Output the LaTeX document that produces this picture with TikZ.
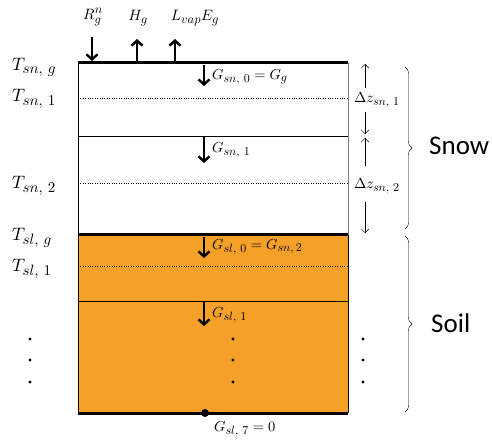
\documentclass[tikz,border=0pt]{standalone}
\usepackage{fontspec}
\newfontfamily\labelfont{Carlito}
\usetikzlibrary{arrows.meta, positioning, decorations.pathreplacing}

% scalable math fonts
\DeclareFontShape{OML}{cmm}{m}{it}{<->cmmi10}{}
\DeclareFontShape{OT1}{cmr}{m}{n}{<->cmr10}{}
\DeclareFontShape{OMS}{cmsy}{m}{n}{<->cmsy10}{}

% sub- and superscripts set at a size of their own
\newcommand{\subsz}[2]{_{\mbox{\fontsize{#1}{#1}\selectfont$#2$}}}
\newcommand{\supsz}[2]{^{\mbox{\fontsize{#1}{#1}\selectfont$#2$}}}

\definecolor{soilorange}{RGB}{245,160,40}

\begin{document}
\begin{tikzpicture}[
    x=1pt, y=-1pt,
    tlabel/.style={
        anchor=west,
        inner sep=0pt,
        font=\fontsize{18}{21}\selectfont
    },
    flabel/.style={
        inner sep=1pt,
        font=\fontsize{15}{18}\selectfont
    },
    glabel/.style={
        anchor=west,
        inner sep=1pt,
        font=\fontsize{14.5}{17}\selectfont
    },
    dzlabel/.style={
        inner sep=1pt,
        font=\fontsize{14.5}{17}\selectfont
    },
    flux/.style={
        line width=2.4pt,
        -{Straight Barb[length=5pt, width=11pt, line width=2.4pt]}
    },
    thin_arrow/.style={
        thin, -{Straight Barb[length=4pt, width=8pt]}
    },
    interface/.style={line width=3pt},
    layer/.style={thin},
    midline/.style={thin, dotted, line width=0.9pt},
    bracket/.style={
        thin,
        decorate,
        decoration={brace, amplitude=7pt}
    },
    region/.style={
        anchor=west,
        inner sep=0pt,
        font=\labelfont\fontsize{27}{29}\selectfont
    }
]
\useasboundingbox (0,0) rectangle (492,443);

% soil column and snow column
\fill[soilorange] (78,235) rectangle (348,413);
\draw[layer] (78,63) -- (78,413);
\draw[layer, gray] (348,63) -- (348,235);
\draw[layer] (348,235) -- (348,413);

% layer boundaries
\draw[interface] (78,63) -- (348,63);
\draw[midline] (78,98) -- (348,98);
\draw[layer] (78,136) -- (348,136);
\draw[midline] (78,183) -- (348,183);
\draw[interface] (78,235) -- (348,235);
\draw[midline] (78,266) -- (348,266);
\draw[layer] (78,301) -- (348,301);
\draw[interface] (78,413) -- (348,413);

% temperatures
\node[tlabel] (tsng) at (12,67) {$T\subsz{15}{sn,\,g}$};
\node[tlabel] (tsn1) at (12,99) {$T\subsz{15}{sn,\,1}$};
\node[tlabel] (tsn2) at (12,186) {$T\subsz{15}{sn,\,2}$};
\node[tlabel] (tslg) at (12,238) {$T\subsz{15}{sl,\,g}$};
\node[tlabel] (tsl1) at (12,269) {$T\subsz{15}{sl,\,1}$};

% surface fluxes
\node[flabel] (rgn) at (93,17) {$R\supsz{12.5}{n}\subsz{12.5}{g}$};
\node[flabel] (hg) at (138,18) {$H\subsz{12.5}{g}$};
\node[flabel] (lve) at (195,18) {$L\subsz{12.5}{vap}E\subsz{12.5}{g}$};
\coordinate (rgn_end) at (92,61);
\coordinate (hg_start) at (137,62);
\coordinate (lve_start) at (175,62);
\draw[flux] (92,37) -- (rgn_end);
\draw[flux] (hg_start) -- (137,39);
\draw[flux] (lve_start) -- (175,39);

% ground heat fluxes
\node[glabel] (gsn0) at (211,77) {$G\subsz{12}{sn,\,0} = G\subsz{12}{g}$};
\node[glabel] (gsn1) at (211,150) {$G\subsz{12}{sn,\,1}$};
\node[glabel] (gsl0) at (211,247) {$G\subsz{12}{sl,\,0} = G\subsz{12}{sn,2}$};
\node[glabel] (gsl1) at (211,315) {$G\subsz{12}{sl,\,1}$};
\draw[flux] (204,65) -- (204,86);
\draw[flux] (204,137) -- (204,163);
\draw[flux] (204,237) -- (204,258);
\draw[flux] (204,302) -- (204,326);
\fill (205,413) circle (4pt);
\node[glabel] (gsl7) at (213,429) {$G\subsz{12}{sl,\,7} = 0$};

% layer thicknesses
\node[dzlabel] (dz1) at (377,100) {$\Delta z\subsz{12}{sn,\,1}$};
\node[dzlabel] (dz2) at (377,186) {$\Delta z\subsz{12}{sn,\,2}$};
\draw[thin_arrow] (365,88) -- (365,64);
\draw[thin_arrow] (365,112) -- (365,134);
\draw[thin_arrow] (365,166) -- (365,138);
\draw[thin_arrow] (365,202) -- (365,233);

% continuation dots
\foreach \y in {339,360,382} {
    \fill (30,\y) circle (1.6pt);
    \fill (233,\y) circle (1.6pt);
    \fill (363,\y) circle (1.6pt);
}

% regions
\draw[bracket] (405,67) -- (405,229);
\draw[bracket] (405,236) -- (405,412);
\node[region] (snow) at (429,146) {Snow};
\node[region] (soil) at (431,323) {Soil};

\end{tikzpicture}
\end{document}
